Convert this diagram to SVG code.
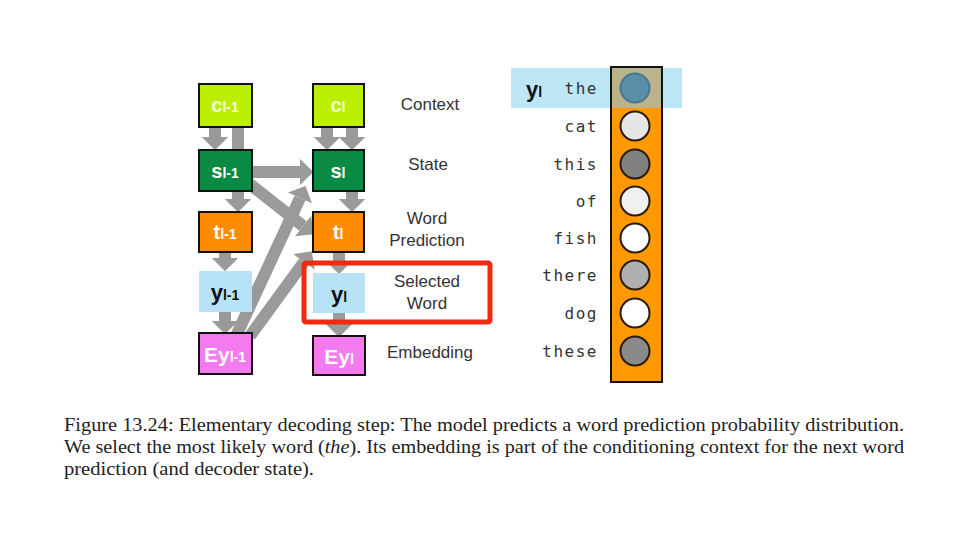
<svg xmlns="http://www.w3.org/2000/svg" width="960" height="540" viewBox="0 0 960 540">
<defs>
<marker id="ah" viewBox="0 0 5 10" refX="0" refY="5" markerWidth="1.1" markerHeight="2.2" orient="auto" markerUnits="strokeWidth">
<path d="M0,0 L5,5 L0,10 z" fill="#9a9a9a"/>
</marker>
<style>
.box{stroke:#111;stroke-width:2}
.arr{stroke:#9a9a9a;stroke-width:12;fill:none}
.bl{font-family:"Liberation Sans",Arial,sans-serif;font-weight:bold;text-anchor:middle}
.lab{font-family:"Liberation Sans",Arial,sans-serif;font-size:17px;fill:#333;text-anchor:middle}
.mono{font-family:"DejaVu Sans Mono","Liberation Mono",monospace;font-size:16px;fill:#333;text-anchor:end;letter-spacing:1.5px}
.cap{font-family:"Liberation Serif","DejaVu Serif",serif;font-size:19px;fill:#222}
.dot{stroke:#2a1a0a;stroke-width:2}
</style>
</defs>
<rect width="960" height="540" fill="#fff"/>

<g id="connectors">
<line class="arr" x1="215" y1="127" x2="215" y2="137" marker-end="url(#ah)"/>
<line class="arr" x1="238" y1="127" x2="238" y2="150"/>
<line class="arr" x1="327" y1="127" x2="327" y2="137" marker-end="url(#ah)"/>
<line class="arr" x1="352" y1="127" x2="352" y2="137" marker-end="url(#ah)"/>
<line class="arr" x1="238" y1="191" x2="238" y2="199" marker-end="url(#ah)"/>
<line class="arr" x1="352" y1="191" x2="352" y2="199" marker-end="url(#ah)"/>
<line class="arr" x1="252" y1="172" x2="300" y2="172" stroke-width="14" marker-end="url(#ah)"/>
<line class="arr" x1="242" y1="178" x2="303" y2="226" stroke-width="13" marker-end="url(#ah)"/>
<line class="arr" x1="225" y1="252" x2="225" y2="258" marker-end="url(#ah)"/>
<line class="arr" x1="225" y1="312" x2="225" y2="321" marker-end="url(#ah)"/>
<line class="arr" x1="236" y1="336" x2="300" y2="198" marker-end="url(#ah)"/>
<line class="arr" x1="250" y1="336" x2="304" y2="262" marker-end="url(#ah)"/>
<line class="arr" x1="339" y1="252" x2="339" y2="261" marker-end="url(#ah)"/>
<line class="arr" x1="339" y1="313" x2="339" y2="324" marker-end="url(#ah)"/>
</g>

<g id="c_prev"><rect class="box" x="199" y="84" width="53" height="43" fill="#bbee00"/><text class="bl" x="225" y="112" fill="#f4ffd8" font-size="20">c<tspan font-size="14">l-1</tspan></text></g>
<g id="c_cur"><rect class="box" x="313" y="84" width="51" height="43" fill="#bbee00"/><text class="bl" x="338" y="112" fill="#f4ffd8" font-size="20">c<tspan font-size="14">l</tspan></text></g>
<g id="s_prev"><rect class="box" x="199" y="150" width="53" height="41" fill="#0b8a43"/><text class="bl" x="225" y="178" fill="#fff" font-size="20">s<tspan font-size="14">l-1</tspan></text></g>
<g id="s_cur"><rect class="box" x="313" y="150" width="51" height="41" fill="#0b8a43"/><text class="bl" x="338" y="178" fill="#fff" font-size="20">s<tspan font-size="14">l</tspan></text></g>
<g id="t_prev"><rect class="box" x="199" y="212" width="53" height="40" fill="#ff8c00"/><text class="bl" x="225" y="239" fill="#fff" font-size="20">t<tspan font-size="14">l-1</tspan></text></g>
<g id="t_cur"><rect class="box" x="313" y="212" width="51" height="40" fill="#ff8c00"/><text class="bl" x="338" y="239" fill="#fff" font-size="20">t<tspan font-size="14">l</tspan></text></g>
<g id="y_prev"><rect x="199" y="271" width="53" height="41" fill="#b8e2f6"/><text class="bl" x="225" y="300" fill="#111" font-size="22">y<tspan font-size="14">l-1</tspan></text></g>
<g id="y_cur"><rect x="313" y="273" width="52" height="40" fill="#b8e2f6"/><text class="bl" x="339" y="302" fill="#111" font-size="22">y<tspan font-size="14">l</tspan></text></g>
<g id="ey_prev"><rect class="box" x="199" y="333" width="53" height="41" fill="#f47af0"/><text class="bl" x="225" y="362" fill="#fff" font-size="21">Ey<tspan font-size="14">l-1</tspan></text></g>
<g id="ey_cur"><rect class="box" x="313" y="336" width="52" height="39" fill="#f47af0"/><text class="bl" x="339" y="364" fill="#fff" font-size="21">Ey<tspan font-size="14">l</tspan></text></g>

<g id="highlight"><rect x="304" y="263" width="186" height="59" rx="2" fill="none" stroke="#ee2a10" stroke-width="5"/></g>

<g id="labels">
<text class="lab" x="430" y="110">Context</text>
<text class="lab" x="428" y="170">State</text>
<text class="lab" x="427" y="224">Word</text>
<text class="lab" x="427" y="246">Prediction</text>
<text class="lab" x="427" y="287">Selected</text>
<text class="lab" x="427" y="309">Word</text>
<text class="lab" x="430" y="358">Embedding</text>
</g>

<g id="distribution">
<rect x="511" y="68" width="171" height="40" fill="#bde6f7"/>
<rect x="611" y="67" width="51" height="315" fill="#ff9900" stroke="#111" stroke-width="2"/>
<rect x="612" y="68" width="49" height="40" fill="#bab38b"/>
<text class="bl" x="534" y="97" fill="#111" font-size="22" text-anchor="middle">y<tspan font-size="14">l</tspan></text>
<text class="mono" x="598" y="94" fill="#6d93a6">the</text>
<text class="mono" x="598" y="132">cat</text>
<text class="mono" x="598" y="170">this</text>
<text class="mono" x="598" y="207">of</text>
<text class="mono" x="598" y="244">fish</text>
<text class="mono" x="598" y="281">there</text>
<text class="mono" x="598" y="319">dog</text>
<text class="mono" x="598" y="357">these</text>
<circle cx="635" cy="88" r="14.5" fill="#5b8ea8" stroke="#4a7890" stroke-width="2"/>
<circle class="dot" cx="635" cy="126" r="14.5" fill="#e6e6e6"/>
<circle class="dot" cx="635" cy="164" r="14.5" fill="#808080"/>
<circle class="dot" cx="635" cy="201" r="14.5" fill="#f0f0f0"/>
<circle class="dot" cx="635" cy="238" r="14.5" fill="#ffffff"/>
<circle class="dot" cx="635" cy="275" r="14.5" fill="#b0b0b0"/>
<circle class="dot" cx="635" cy="313" r="14.5" fill="#ffffff"/>
<circle class="dot" cx="635" cy="351" r="14.5" fill="#8a8a8a"/>
</g>

<g id="caption">
<text class="cap" x="64" y="431" textLength="840" lengthAdjust="spacingAndGlyphs">Figure 13.24: Elementary decoding step: The model predicts a word prediction probability distribution.</text>
<text class="cap" x="64" y="453" textLength="840" lengthAdjust="spacingAndGlyphs">We select the most likely word (<tspan font-style="italic">the</tspan>). Its embedding is part of the conditioning context for the next word</text>
<text class="cap" x="64" y="475" textLength="250" lengthAdjust="spacingAndGlyphs">prediction (and decoder state).</text>
</g>
</svg>
